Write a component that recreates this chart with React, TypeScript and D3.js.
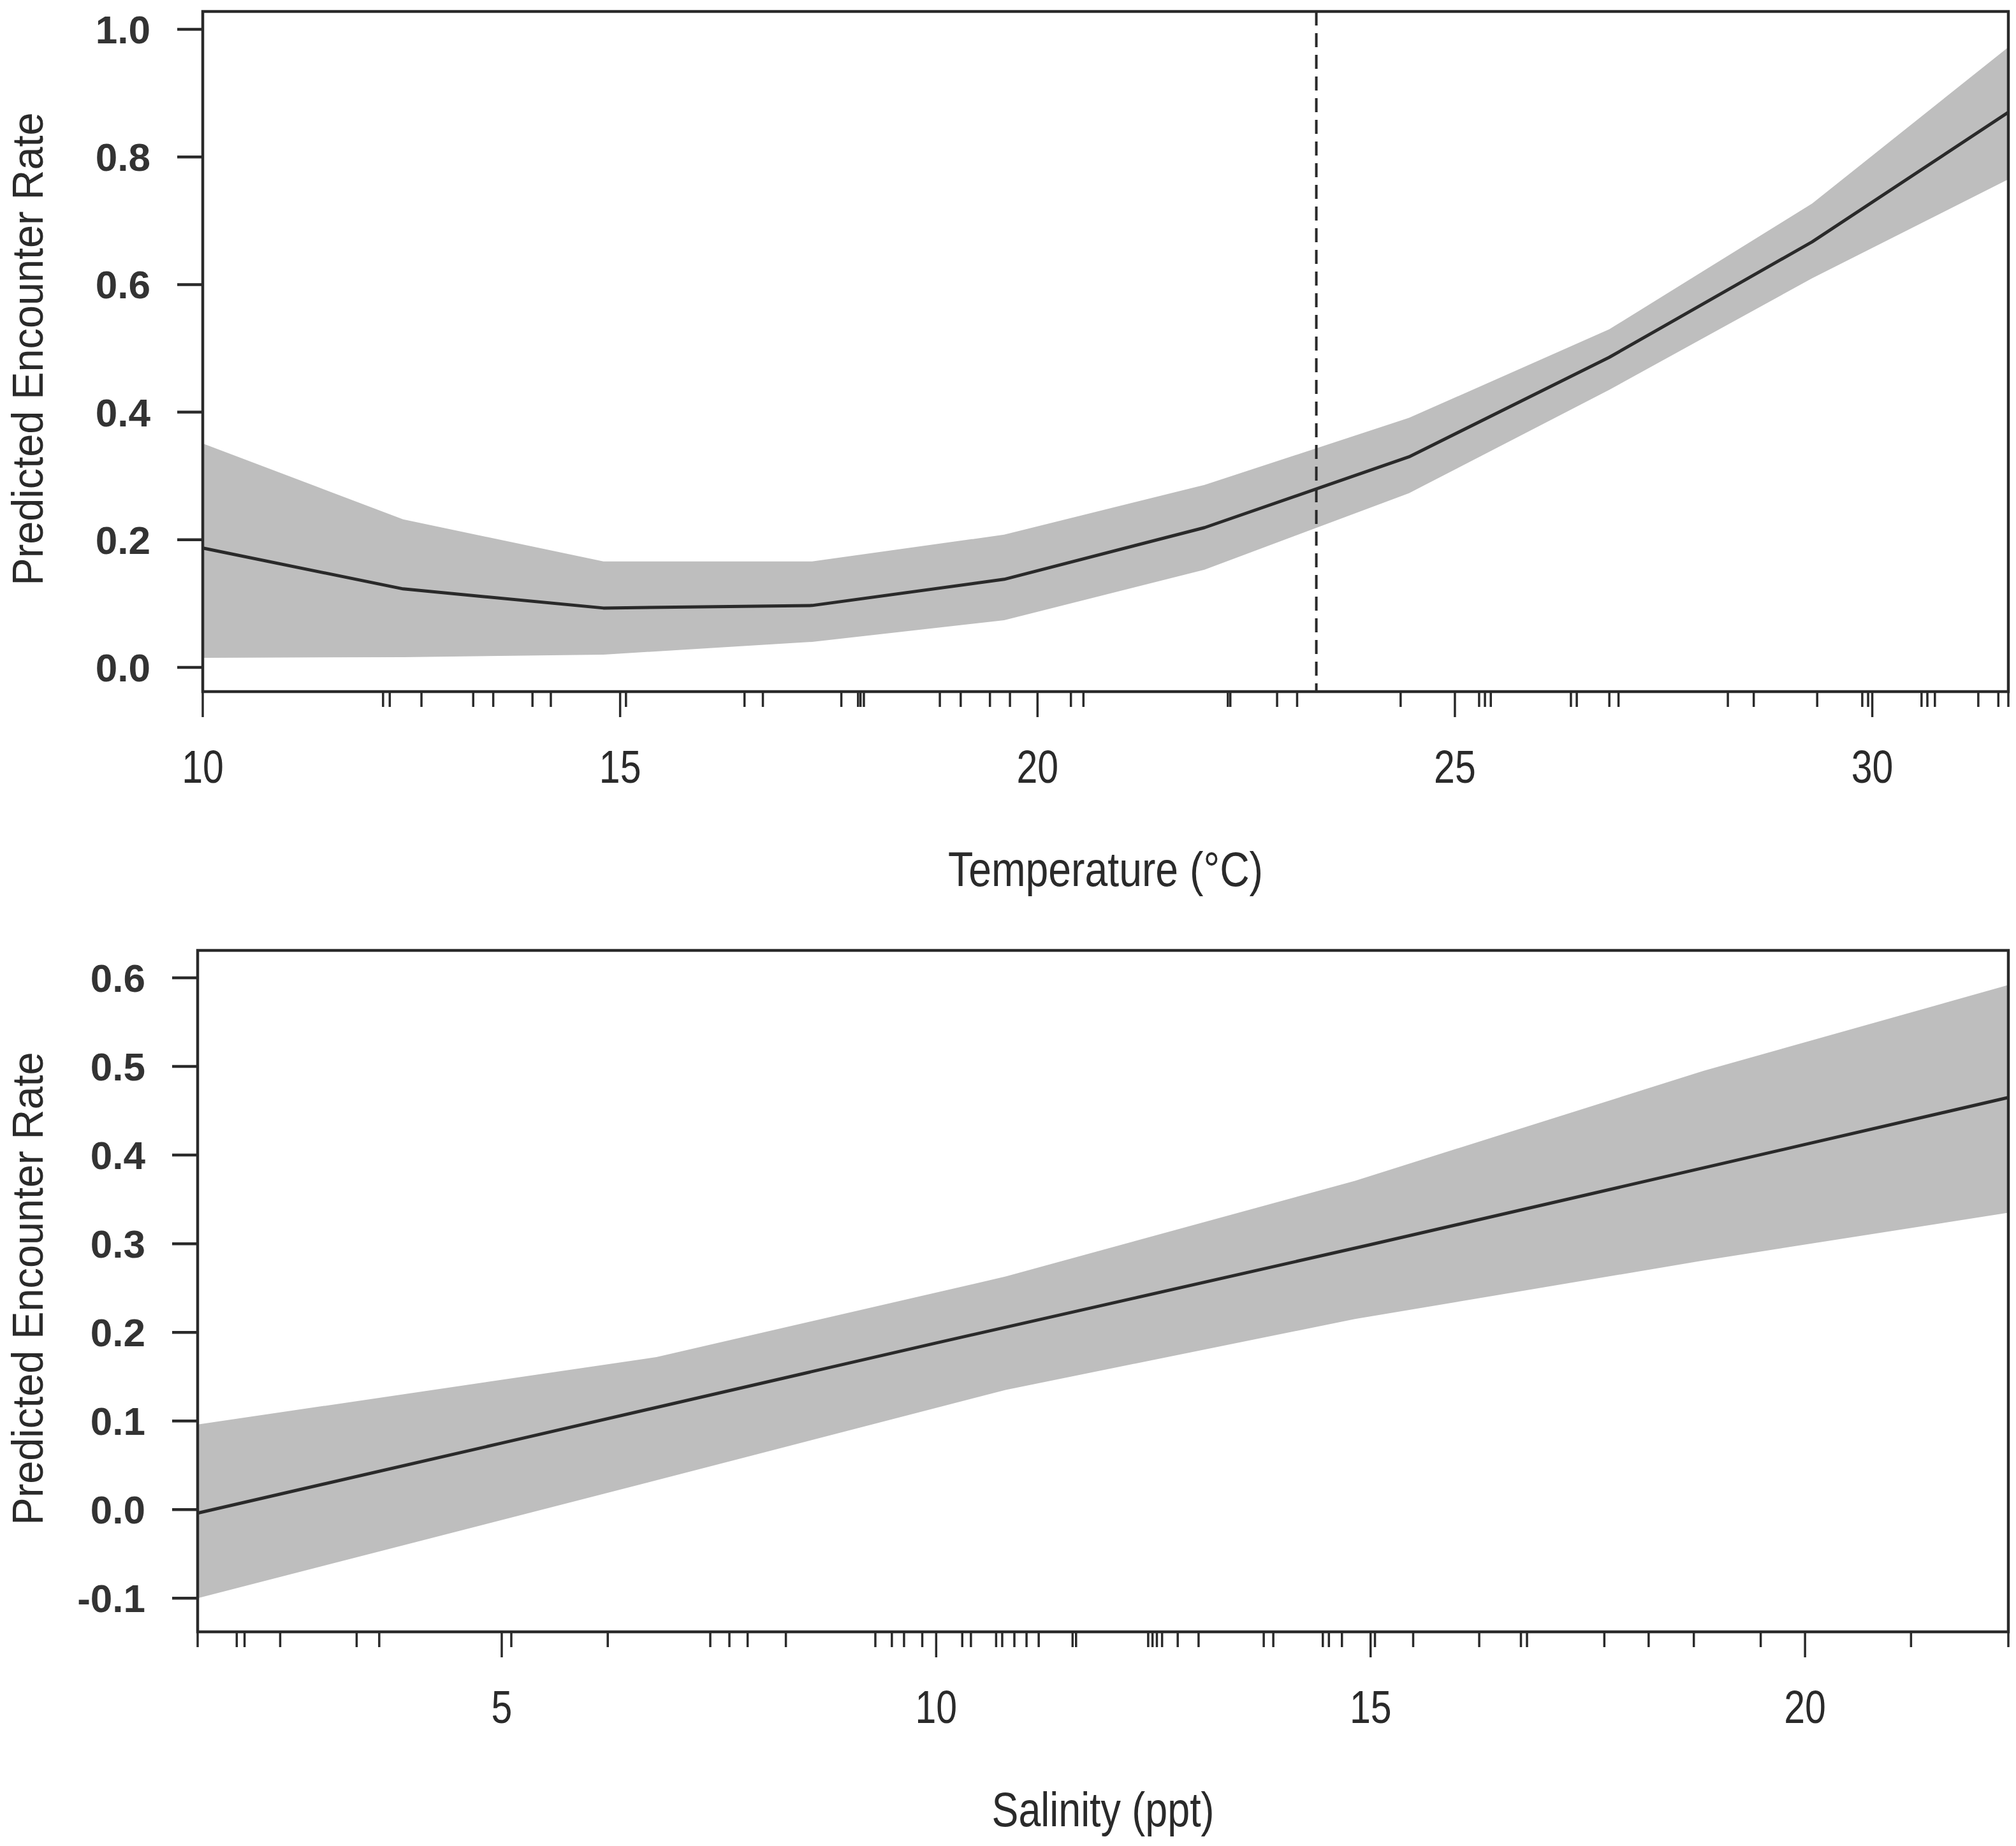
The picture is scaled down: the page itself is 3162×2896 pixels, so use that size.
import * as d3 from "d3";

// Temperature panel: fitted curve and 95% band
const tempX = [10, 12.4, 14.8, 17.3, 19.6, 22.0, 24.45, 26.85, 29.28, 31.63];
const tempFit = [0.187, 0.123, 0.093, 0.097, 0.138, 0.219, 0.33, 0.486, 0.667, 0.87];
const tempUpper = [0.351, 0.232, 0.166, 0.166, 0.208, 0.286, 0.391, 0.53, 0.727, 0.972];
const tempLower = [0.015, 0.016, 0.02, 0.04, 0.074, 0.153, 0.273, 0.435, 0.61, 0.765];
const tempRug = [
  12.16, 12.24, 12.62, 13.24, 13.48, 13.95, 14.17, 15.07, 16.49, 16.71, 17.65,
  17.85, 17.88, 17.92, 18.83, 19.08, 19.43, 19.67, 20.4, 20.55, 22.28, 22.31,
  22.87, 23.11, 24.35, 25.29, 25.36, 25.43, 26.39, 26.46, 26.85, 26.96, 28.27,
  28.58, 29.34, 29.88, 29.95, 30.59, 30.66, 30.75, 31.27, 31.51, 31.63,
];
const tempThreshold = 23.34;
const tempXTicks = [10, 15, 20, 25, 30];
const tempYTicks = [0, 0.2, 0.4, 0.6, 0.8, 1.0];

// Salinity panel
const salX = [1.5, 5, 10, 15, 20, 22.34];
const salFit = [-0.004, 0.075, 0.188, 0.299, 0.412, 0.465];
const salBandX = [1.5, 6.78, 10.8, 14.82, 18.83, 22.34];
const salUpper = [0.096, 0.172, 0.263, 0.371, 0.495, 0.592];
const salLower = [-0.1, 0.033, 0.135, 0.215, 0.281, 0.335];
const salRug = [
  1.5, 1.95, 2.04, 2.45, 3.33, 3.59, 5.11, 6.22, 7.4, 7.62, 7.83, 8.27, 9.3,
  9.49, 9.63, 9.84, 10.3, 10.4, 10.69, 10.76, 10.9, 11.04, 11.18, 11.57, 11.61,
  12.44, 12.49, 12.54, 12.6, 12.78, 13.02, 13.77, 13.88, 14.45, 14.52, 14.67,
  15.05, 15.49, 16.25, 16.73, 16.8, 17.69, 18.2, 18.72, 19.49, 21.22, 22.34,
];
const salXTicks = [5, 10, 15, 20];
const salYTicks = [-0.1, 0, 0.1, 0.2, 0.3, 0.4, 0.5, 0.6];

const yTitle = "Predicted Encounter Rate";

const W = 3162;
const H = 2896;
const ink = "#2a2a2a";
const font = "'Liberation Sans', Arial, sans-serif";

interface PanelProps {
  left: number;
  right: number;
  top: number;
  bottom: number;
  xDomain: [number, number];
  yDomain: [number, number];
  xs: number[];
  fit: number[];
  bandX: number[];
  upper: number[];
  lower: number[];
  rug: number[];
  xTicks: number[];
  yTicks: number[];
  xTitle: string;
  xTitleWidth: number;
  threshold?: number;
}

function Panel(p: PanelProps) {
  const x = d3.scaleLinear().domain(p.xDomain).range([p.left, p.right]);
  const y = d3.scaleLinear().domain(p.yDomain).range([p.bottom, p.top]);

  const band = d3
    .area<number>()
    .x((i) => x(p.bandX[i]))
    .y0((i) => y(p.lower[i]))
    .y1((i) => y(p.upper[i]));
  const line = d3
    .line<number>()
    .x((i) => x(p.xs[i]))
    .y((i) => y(p.fit[i]));

  const midX = (p.left + p.right) / 2;
  const midY = (p.top + p.bottom) / 2;

  return (
    <g>
      <path d={band(d3.range(p.bandX.length)) ?? ""} fill="#bebebe" />
      <path
        d={line(d3.range(p.xs.length)) ?? ""}
        fill="none"
        stroke={ink}
        strokeWidth={5}
        strokeLinejoin="round"
      />
      {p.threshold !== undefined && (
        <line
          x1={x(p.threshold)}
          x2={x(p.threshold)}
          y1={p.top}
          y2={p.bottom}
          stroke={ink}
          strokeWidth={4}
          strokeDasharray="22 12"
        />
      )}
      <rect
        x={p.left}
        y={p.top}
        width={p.right - p.left}
        height={p.bottom - p.top}
        fill="none"
        stroke={ink}
        strokeWidth={4.5}
      />
      {/* rug */}
      {p.rug.map((v, i) => (
        <line
          key={"r" + i}
          x1={x(v)}
          x2={x(v)}
          y1={p.bottom}
          y2={p.bottom + 24}
          stroke={ink}
          strokeWidth={3.5}
        />
      ))}
      {/* x axis */}
      {p.xTicks.map((v) => (
        <g key={"x" + v}>
          <line
            x1={x(v)}
            x2={x(v)}
            y1={p.bottom}
            y2={p.bottom + 40}
            stroke={ink}
            strokeWidth={3.5}
          />
          <text
            transform={`translate(${x(v)},${p.bottom + 143}) scale(0.82,1)`}
            textAnchor="middle"
            fontFamily={font}
            fontSize={72}
            fill={ink}
          >
            {v}
          </text>
        </g>
      ))}
      {/* y axis */}
      {p.yTicks.map((v) => (
        <g key={"y" + v}>
          <line
            x1={p.left - 40}
            x2={p.left}
            y1={y(v)}
            y2={y(v)}
            stroke={ink}
            strokeWidth={4.5}
          />
          <text
            x={p.left - 82}
            y={y(v) + 22}
            textAnchor="end"
            fontFamily={font}
            fontWeight="bold"
            fontSize={62}
            fill="#333"
          >
            {v.toFixed(1)}
          </text>
        </g>
      ))}
      <text
        x={midX}
        y={p.bottom + 305}
        textAnchor="middle"
        fontFamily={font}
        fontSize={76}
        fill={ink}
        textLength={p.xTitleWidth}
        lengthAdjust="spacingAndGlyphs"
      >
        {p.xTitle}
      </text>
      <text
        transform={`translate(67,${midY - 4}) rotate(-90)`}
        textAnchor="middle"
        fontFamily={font}
        fontSize={68}
        fill={ink}
        textLength={742}
        lengthAdjust="spacingAndGlyphs"
      >
        {yTitle}
      </text>
    </g>
  );
}

export default function App() {
  return (
    <svg
      width={W}
      height={H}
      viewBox={`0 0 ${W} ${H}`}
      style={{ position: "absolute", left: 0, top: 0, background: "#fff" }}
    >
      <rect width={W} height={H} fill="#fff" />
      <Panel
        left={318}
        right={3150}
        top={18}
        bottom={1085}
        xDomain={[10, 31.63]}
        yDomain={[-0.038, 1.028]}
        xs={tempX}
        fit={tempFit}
        bandX={tempX}
        upper={tempUpper}
        lower={tempLower}
        rug={tempRug}
        xTicks={tempXTicks}
        yTicks={tempYTicks}
        xTitle="Temperature (°C)"
        xTitleWidth={494}
        threshold={tempThreshold}
      />
      <Panel
        left={310}
        right={3150}
        top={1491}
        bottom={2560}
        xDomain={[1.5, 22.34]}
        yDomain={[-0.138, 0.631]}
        xs={salX}
        fit={salFit}
        bandX={salBandX}
        upper={salUpper}
        lower={salLower}
        rug={salRug}
        xTicks={salXTicks}
        yTicks={salYTicks}
        xTitle="Salinity (ppt)"
        xTitleWidth={349}
      />
    </svg>
  );
}
